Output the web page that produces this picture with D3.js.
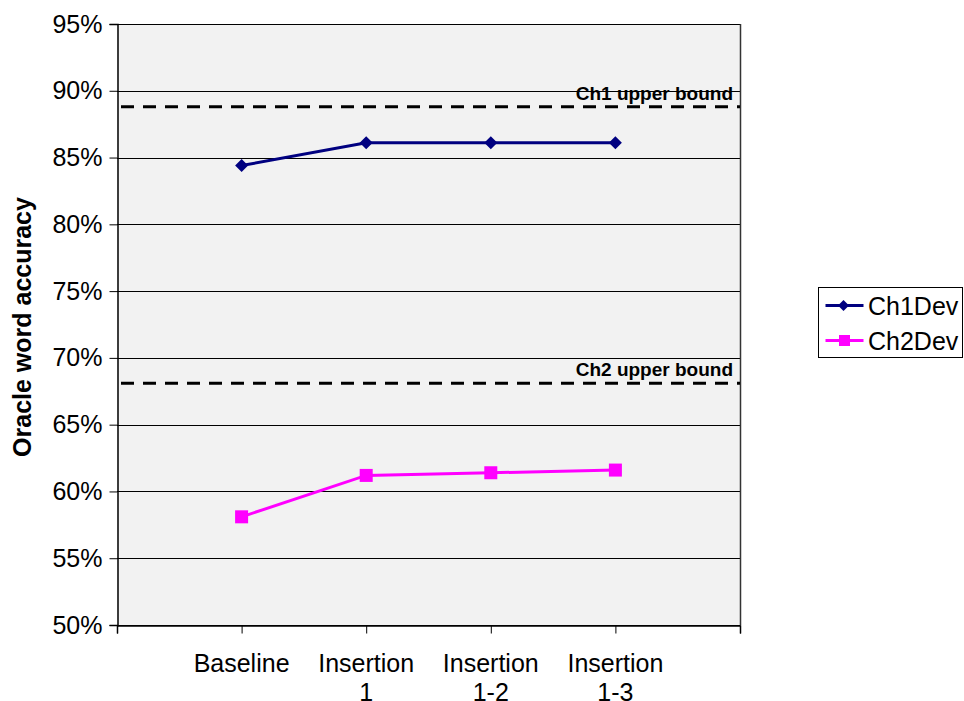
<!DOCTYPE html>
<html>
<head>
<meta charset="utf-8">
<script src="https://cdn.jsdelivr.net/npm/d3@7"></script>
<style>
  html, body { margin: 0; padding: 0; background: #fff; }
  svg { display: block; font-family: "Liberation Sans", Arial, sans-serif; }
</style>
</head>
<body>
<svg id="chart" width="964" height="701"></svg>
<script>
// Categories along the x axis (two-line labels)
const categories = ["Baseline", "Insertion\n1", "Insertion\n1-2", "Insertion\n1-3"];
// Oracle word accuracy (%) per series
const ch1Dev = [84.4, 86.1, 86.1, 86.1];
const ch2Dev = [58.1, 61.2, 61.4, 61.6];
// Upper bounds drawn as dashed reference lines
const boundValues = [88.8, 68.1];
const boundLabels = ["Ch1 upper bound", "Ch2 upper bound"];
// Y axis ticks (%)
const yTicks = [50, 55, 60, 65, 70, 75, 80, 85, 90, 95];
const seriesNames = ["Ch1Dev", "Ch2Dev"];

const svg = d3.select("#chart");
const plot = { left: 117, right: 740, top: 24, bottom: 625 };

const x = d3.scaleLinear().domain([0, 5]).range([plot.left, plot.right]);
const y = d3.scaleLinear().domain([50, 95]).range([plot.bottom, plot.top]);

// Plot background
svg.append("rect")
  .attr("x", plot.left).attr("y", plot.top)
  .attr("width", plot.right - plot.left).attr("height", plot.bottom - plot.top)
  .attr("fill", "#f2f2f2");

// Horizontal gridlines
svg.append("g").selectAll("line").data(yTicks).join("line")
  .attr("x1", plot.left).attr("x2", plot.right)
  .attr("y1", d => Math.round(y(d)) + 0.5).attr("y2", d => Math.round(y(d)) + 0.5)
  .attr("stroke", "#000").attr("stroke-width", 1);

// Right border
svg.append("line")
  .attr("x1", plot.right + 0.5).attr("x2", plot.right + 0.5)
  .attr("y1", plot.top).attr("y2", plot.bottom)
  .attr("stroke", "#333").attr("stroke-width", 1.5);

// Y axis
const yAxis = d3.axisLeft(y).tickValues(yTicks).tickSize(8).tickPadding(7)
  .tickFormat(d => d + "%");
const gy = svg.append("g").attr("transform", `translate(${plot.left + 0.5},0)`).call(yAxis);
gy.select(".domain").attr("stroke", "#000").attr("stroke-width", 1.5);
gy.selectAll(".tick line").attr("stroke", "#000");
gy.selectAll(".tick text").attr("font-size", 25).attr("fill", "#000")
  .attr("font-family", "Liberation Sans, Arial, sans-serif");

// X axis
const xAxis = d3.axisBottom(x).tickValues([0, 1, 2, 3, 4, 5]).tickSize(8).tickFormat("");
const gx = svg.append("g").attr("transform", `translate(0,${plot.bottom + 0.5})`).call(xAxis);
gx.select(".domain").attr("stroke", "#000").attr("stroke-width", 1.5);
gx.selectAll(".tick line").attr("stroke", "#000");

// Category labels
svg.append("g").selectAll("text").data(categories).join("text")
  .attr("x", (d, i) => x(i + 1))
  .attr("y", 672)
  .attr("text-anchor", "middle")
  .attr("font-size", 25)
  .attr("fill", "#000")
  .each(function (d) {
    const lines = d.split("\n");
    d3.select(this).selectAll("tspan").data(lines).join("tspan")
      .attr("x", d3.select(this).attr("x"))
      .attr("dy", (l, j) => j === 0 ? 0 : 29)
      .text(l => l);
  });

// Y axis title
svg.append("text")
  .attr("transform", `translate(31,327) rotate(-90)`)
  .attr("text-anchor", "middle")
  .attr("font-size", 25).attr("font-weight", "bold").attr("fill", "#000")
  .text("Oracle word accuracy");

// Upper bound reference lines
boundValues.forEach((v, i) => {
  svg.append("line")
    .attr("x1", plot.left + 4).attr("x2", plot.right)
    .attr("y1", y(v)).attr("y2", y(v))
    .attr("stroke", "#000").attr("stroke-width", 3)
    .attr("stroke-dasharray", "13,9");
  svg.append("text")
    .attr("x", plot.right - 7).attr("y", y(v) - 7)
    .attr("text-anchor", "end")
    .attr("font-size", 19).attr("font-weight", "bold").attr("fill", "#000")
    .text(boundLabels[i]);
});

// Series lines and markers
const line = d3.line().x((d, i) => x(i + 1)).y(d => y(d));
// Square diamond marker (rotated square)
const diamondPath = r => `M0,${-r}L${r},0L0,${r}L${-r},0Z`;

svg.append("path").datum(ch1Dev).attr("d", line)
  .attr("fill", "none").attr("stroke", "#000080").attr("stroke-width", 3);
svg.append("g").selectAll("path").data(ch1Dev).join("path")
  .attr("d", diamondPath(6.5))
  .attr("transform", (d, i) => `translate(${x(i + 1)},${y(d)})`)
  .attr("fill", "#000080");

svg.append("path").datum(ch2Dev).attr("d", line)
  .attr("fill", "none").attr("stroke", "#ff00ff").attr("stroke-width", 3);
svg.append("g").selectAll("rect").data(ch2Dev).join("rect")
  .attr("x", (d, i) => x(i + 1) - 6.5).attr("y", d => y(d) - 6.5)
  .attr("width", 13).attr("height", 13)
  .attr("fill", "#ff00ff");

// Legend
const legend = svg.append("g").attr("transform", "translate(818.5,287.5)");
legend.append("rect").attr("width", 144).attr("height", 70)
  .attr("fill", "#fff").attr("stroke", "#000").attr("stroke-width", 1);
const colors = ["#000080", "#ff00ff"];
seriesNames.forEach((name, i) => {
  const cy = 18 + i * 35;
  legend.append("line").attr("x1", 7).attr("x2", 45).attr("y1", cy).attr("y2", cy)
    .attr("stroke", colors[i]).attr("stroke-width", 3);
  if (i === 0) {
    legend.append("path").attr("d", diamondPath(5.5))
      .attr("transform", `translate(25,${cy})`).attr("fill", colors[i]);
  } else {
    legend.append("rect").attr("x", 20.5).attr("y", cy - 5.5).attr("width", 11).attr("height", 11)
      .attr("fill", colors[i]);
  }
  legend.append("text").attr("x", 49.5).attr("y", cy + 9)
    .attr("font-size", 25).attr("fill", "#000").text(name);
});
</script>
</body>
</html>
